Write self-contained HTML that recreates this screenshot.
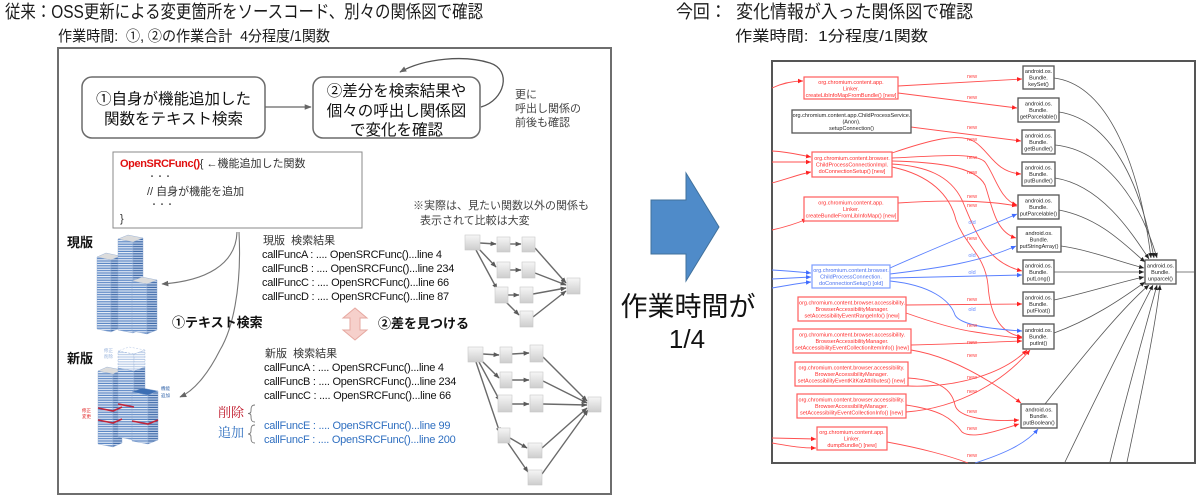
<!DOCTYPE html>
<html><head><meta charset="utf-8">
<style>
html,body{margin:0;padding:0;background:#fff;}
svg{display:block;font-family:"Liberation Sans","Noto Sans CJK JP",sans-serif;}
.pre{white-space:pre;}
.n{font-size:5.5px;text-anchor:middle;}
.nr{fill:#ff2a2a;}
.nb{fill:#4a72f0;}
.nk{fill:#222;}
.rr{fill:#fff;stroke:#ff5c5c;stroke-width:1.2;}
.rb{fill:#fff;stroke:#7c9cff;stroke-width:1.2;}
.rk{fill:#fff;stroke:#555;stroke-width:1.3;}
.er{fill:none;stroke:#ff5050;stroke-width:0.9;marker-end:url(#mr);}
.eb{fill:none;stroke:#5a80ff;stroke-width:0.9;marker-end:url(#mb);}
.ek{fill:none;stroke:#555;stroke-width:0.8;marker-end:url(#mk);}
.ln{font-size:5.5px;text-anchor:middle;fill:#ff4040;}
.lo{font-size:5.5px;text-anchor:middle;fill:#6a8cff;}
.ge{fill:none;stroke:#6a6a6a;stroke-width:1.4;marker-end:url(#mg2);}
.gn{fill:url(#gnd);stroke:#c8c8c8;stroke-width:0.6;}
.cf{font-size:11px;letter-spacing:-0.25px;fill:#111;}
.cfb{font-size:11px;letter-spacing:-0.25px;fill:#2f6fc0;}
</style></head><body>
<svg width="1200" height="498" viewBox="0 0 1200 498">
<defs>
<marker id="mr" viewBox="0 0 10 10" refX="10" refY="5" markerWidth="5" markerHeight="5" orient="auto" markerUnits="userSpaceOnUse"><path d="M0,0.5L10,5L0,9.5z" fill="#f22"/></marker>
<marker id="mb" viewBox="0 0 10 10" refX="10" refY="5" markerWidth="5" markerHeight="5" orient="auto" markerUnits="userSpaceOnUse"><path d="M0,0.5L10,5L0,9.5z" fill="#3f6bff"/></marker>
<marker id="mk" viewBox="0 0 10 10" refX="10" refY="5" markerWidth="5" markerHeight="5" orient="auto" markerUnits="userSpaceOnUse"><path d="M0,0.5L10,5L0,9.5z" fill="#222"/></marker>
<marker id="mg" viewBox="0 0 10 10" refX="9" refY="5" markerWidth="7" markerHeight="7" orient="auto" markerUnits="userSpaceOnUse"><path d="M0,1L10,5L0,9z" fill="#666"/></marker>
<marker id="mg2" viewBox="0 0 10 10" refX="9" refY="5" markerWidth="6" markerHeight="6" orient="auto" markerUnits="userSpaceOnUse"><path d="M0,1L10,5L0,9z" fill="#5a5a5a"/></marker>
<linearGradient id="gnd" x1="0" y1="0" x2="0" y2="1"><stop offset="0" stop-color="#f6f6f6"/><stop offset="1" stop-color="#cdcdcd"/></linearGradient>
<pattern id="s1" width="6" height="2.4" patternUnits="userSpaceOnUse"><rect width="6" height="2.4" fill="#e6edf7"/><rect y="1.2" width="6" height="1.2" fill="#5a86c4"/></pattern>
<pattern id="s2" width="6" height="2.4" patternUnits="userSpaceOnUse"><rect width="6" height="2.4" fill="#c4d4ec"/><rect y="1.2" width="6" height="1.2" fill="#3c68a8"/></pattern>
<pattern id="s3" width="6" height="2.4" patternUnits="userSpaceOnUse"><rect width="6" height="2.4" fill="#fff"/><rect y="1.2" width="6" height="1.2" fill="#b9cce8"/></pattern>
</defs>

<!-- Headers -->
<text x="5" y="18" font-size="18" fill="#1a1a1a" textLength="478" lengthAdjust="spacingAndGlyphs">従来：OSS更新による変更箇所をソースコード、別々の関係図で確認</text>
<text x="58" y="41" font-size="15" fill="#1a1a1a" class="pre" textLength="272" lengthAdjust="spacingAndGlyphs">作業時間:  ①, ②の作業合計  4分程度/1関数</text>
<text x="676" y="18" font-size="18" fill="#1a1a1a" class="pre" textLength="297" lengthAdjust="spacingAndGlyphs">今回：  変化情報が入った関係図で確認</text>
<text x="735" y="41" font-size="15" fill="#1a1a1a" class="pre" textLength="193" lengthAdjust="spacingAndGlyphs">作業時間:  1分程度/1関数</text>

<!-- Left panel -->
<rect x="58" y="48" width="553" height="446" fill="#fff" stroke="#6e6e6e" stroke-width="2"/>

<rect x="82" y="77" width="183" height="61" rx="10" fill="#fff" stroke="#6b6b6b" stroke-width="1.5"/>
<text x="173.5" y="104" font-size="15.5" text-anchor="middle" fill="#111">①自身が機能追加した</text>
<text x="173.5" y="124" font-size="15.5" text-anchor="middle" fill="#111">関数をテキスト検索</text>
<rect x="313" y="77" width="167" height="61" rx="10" fill="#fff" stroke="#6b6b6b" stroke-width="1.5"/>
<text x="396.5" y="96" font-size="15.5" text-anchor="middle" fill="#111">②差分を検索結果や</text>
<text x="396.5" y="116" font-size="15.5" text-anchor="middle" fill="#111">個々の呼出し関係図</text>
<text x="396.5" y="135" font-size="15.5" text-anchor="middle" fill="#111">で変化を確認</text>
<path d="M265,107 L311,107" fill="none" stroke="#666" stroke-width="1.3" marker-end="url(#mg)"/>
<path d="M481,107 C505,100 512,70 490,63 C465,55 425,58 400,72" fill="none" stroke="#555" stroke-width="1.3" marker-end="url(#mg)"/>
<text x="515" y="98" font-size="11" fill="#444">更に</text>
<text x="515" y="112" font-size="11" fill="#444">呼出し関係の</text>
<text x="515" y="126" font-size="11" fill="#444">前後も確認</text>

<rect x="113" y="152" width="249" height="76" fill="#fff" stroke="#8a8a8a" stroke-width="1"/>
<text x="120" y="167" font-size="11" fill="#333"><tspan fill="#e01010" font-weight="bold" letter-spacing="-0.4">OpenSRCFunc()</tspan>{ ←機能追加した関数</text>
<text x="148" y="179" font-size="8" fill="#333">・・・</text>
<text x="147" y="195" font-size="11" fill="#333">// 自身が機能を追加</text>
<text x="150" y="207" font-size="8" fill="#333">・・・</text>
<text x="120" y="222" font-size="11" fill="#333">}</text>

<text x="413" y="209" font-size="11" fill="#444">※実際は、見たい関数以外の関係も</text>
<text x="420" y="224" font-size="11" fill="#444">表示されて比較は大変</text>

<text x="67" y="247" font-size="13" font-weight="bold" fill="#111">現版</text>
<text x="67" y="363" font-size="13" font-weight="bold" fill="#111">新版</text>

<!-- current buildings -->
<g stroke="#8aa6cf" stroke-width="0.4">
<polygon points="97,257 111,260 111,332 97,329" fill="url(#s1)"/>
<polygon points="111,260 120,256 120,328 111,332" fill="url(#s2)"/>
<polygon points="97,257 111,260 120,256 106,253" fill="#dcdcdc"/>
<polygon points="118,239 133,242 133,333 118,330" fill="url(#s1)"/>
<polygon points="133,242 143,238 143,329 133,333" fill="url(#s2)"/>
<polygon points="118,239 133,242 143,238 128,235" fill="#dcdcdc"/>
<polygon points="132,281 147,284 147,334 132,331" fill="url(#s1)"/>
<polygon points="147,284 157,280 157,330 147,334" fill="url(#s2)"/>
<polygon points="132,281 147,284 157,280 142,277" fill="#dcdcdc"/>
</g>
<!-- new buildings -->
<g stroke="#8aa6cf" stroke-width="0.4">
<polygon points="98,371 113,374 113,447 98,444" fill="url(#s1)"/>
<polygon points="113,374 122,370 122,443 113,447" fill="url(#s2)"/>
<polygon points="98,371 113,374 122,370 107,367" fill="#dcdcdc"/>
<polygon points="118,351 134,354 134,371 118,368" fill="url(#s3)" stroke-dasharray="2,1.5"/>
<polygon points="134,354 145,350 145,367 134,371" fill="url(#s3)" stroke-dasharray="2,1.5"/>
<polygon points="118,351 134,354 145,350 129,347" fill="none" stroke="#9ab4dc" stroke-dasharray="2,1.5"/>
<polygon points="118,368 134,371 134,440 118,437" fill="url(#s1)"/>
<polygon points="134,371 145,367 145,436 134,440" fill="url(#s2)"/>
<polygon points="132,392 148,395 148,444 132,441" fill="url(#s1)"/>
<polygon points="148,395 158,391 158,440 148,444" fill="url(#s2)"/>
<polygon points="132,392 148,395 158,391 142,388" fill="#3d6fb4"/>
</g>
<g stroke="#c0243a" stroke-width="1.6" fill="none">
<polyline points="98,408 113,411 122,407"/>
<polyline points="98,420 113,423 122,419"/>
<polyline points="118,404 134,407"/>
<polyline points="132,421 148,424 158,420"/>
</g>
<text x="104" y="352" font-size="4.5" fill="#9ab4dc">修正</text>
<text x="104" y="358" font-size="4.5" fill="#9ab4dc">削除</text>
<text x="82" y="412" font-size="4.5" fill="#e02020">修正</text>
<text x="82" y="418" font-size="4.5" fill="#e02020">変更</text>
<text x="161" y="390" font-size="4.5" fill="#2f62a8">機能</text>
<text x="161" y="397" font-size="4.5" fill="#2f62a8">追加</text>

<!-- curves from code box -->
<path d="M237,232 C236,265 205,281 162,284" fill="none" stroke="#777" stroke-width="1.1" marker-end="url(#mg)"/>
<path d="M239,232 C242,290 232,330 220,350 C210,370 196,390 180,397" fill="none" stroke="#777" stroke-width="1.1" marker-end="url(#mg)"/>

<text x="172" y="327" font-size="13" font-weight="bold" fill="#111">①テキスト検索</text>
<polygon points="355,308 367,318 360,318 360,330 367,330 355,340 343,330 350,330 350,318 343,318" fill="#f6d0cb" stroke="#e6a8a0" stroke-width="1"/>
<text x="378" y="328" font-size="13" font-weight="bold" fill="#111">②差を見つける</text>

<!-- search results -->
<text x="263" y="244" font-size="11" fill="#333" class="pre">現版  検索結果</text>
<text x="262" y="258" class="cf">callFuncA : .... OpenSRCFunc()...line 4</text>
<text x="262" y="272" class="cf">callFuncB : .... OpenSRCFunc()...line 234</text>
<text x="262" y="286" class="cf">callFuncC : .... OpenSRCFunc()...line 66</text>
<text x="262" y="300" class="cf">callFuncD : .... OpenSRCFunc()...line 87</text>

<text x="265" y="357" font-size="11" fill="#333" class="pre">新版  検索結果</text>
<text x="264" y="371" class="cf">callFuncA : .... OpenSRCFunc()...line 4</text>
<text x="264" y="385" class="cf">callFuncB : .... OpenSRCFunc()...line 234</text>
<text x="264" y="399" class="cf">callFuncC : .... OpenSRCFunc()...line 66</text>
<text x="218" y="417" font-size="13" fill="#c0182a" font-family="'Liberation Serif','Noto Serif CJK SC',serif">削除</text>
<path d="M255,405 C251,405 251,408 251,411 C251,413 250,413.5 248,413.5 C250,413.5 251,414 251,416 C251,419 251,422 255,422" fill="none" stroke="#777" stroke-width="0.9"/>
<text x="218" y="437" font-size="13" fill="#2f6fc0" font-family="'Liberation Serif','Noto Serif CJK SC',serif">追加</text>
<path d="M255,425 C251,425 251,428 251,431 C251,433 250,434 248,434 C250,434 251,435 251,437 C251,440 251,443 255,443" fill="none" stroke="#777" stroke-width="0.9"/>
<text x="264" y="429" class="cfb">callFuncE : .... OpenSRCFunc()...line 99</text>
<text x="264" y="443" class="cfb">callFuncF : .... OpenSRCFunc()...line 200</text>

<!-- top graph -->
<g>
<path class="ge" d="M480,243 L496,244"/>
<path class="ge" d="M510,244 L521,244"/>
<path class="ge" d="M478,248 L496,267"/>
<path class="ge" d="M510,270 L521,270"/>
<path class="ge" d="M476,250 L497,289"/>
<path class="ge" d="M508,295 L519,295"/>
<path class="ge" d="M506,302 L519,315"/>
<path class="ge" d="M535,248 L566,283"/>
<path class="ge" d="M535,273 L566,285"/>
<path class="ge" d="M533,294 L566,288"/>
<path class="ge" d="M533,317 L566,291"/>
<rect class="gn" x="465" y="235" width="15" height="15"/>
<rect class="gn" x="497" y="237" width="13" height="15"/>
<rect class="gn" x="522" y="237" width="13" height="15"/>
<rect class="gn" x="497" y="262" width="13" height="16"/>
<rect class="gn" x="522" y="262" width="13" height="16"/>
<rect class="gn" x="495" y="287" width="13" height="16"/>
<rect class="gn" x="520" y="287" width="13" height="16"/>
<rect class="gn" x="520" y="311" width="13" height="16"/>
<rect class="gn" x="567" y="278" width="13" height="16"/>
</g>
<!-- bottom graph -->
<g>
<path class="ge" d="M483,354 L499,355"/>
<path class="ge" d="M512,354 L529,353"/>
<path class="ge" d="M481,360 L499,378"/>
<path class="ge" d="M512,380 L529,380"/>
<path class="ge" d="M479,362 L500,401"/>
<path class="ge" d="M512,404 L529,404"/>
<path class="ge" d="M476,362 L500,433"/>
<path class="ge" d="M510,438 L527,448"/>
<path class="ge" d="M508,443 L528,472"/>
<path class="ge" d="M543,357 L587,401"/>
<path class="ge" d="M543,381 L587,403"/>
<path class="ge" d="M543,404 L587,405"/>
<path class="ge" d="M542,448 L587,408"/>
<path class="ge" d="M542,474 L588,410"/>
<rect class="gn" x="468" y="347" width="15" height="15"/>
<rect class="gn" x="500" y="347" width="12" height="16"/>
<rect class="gn" x="530" y="345" width="13" height="17"/>
<rect class="gn" x="500" y="372" width="12" height="16"/>
<rect class="gn" x="530" y="372" width="13" height="16"/>
<rect class="gn" x="498" y="395" width="14" height="17"/>
<rect class="gn" x="530" y="395" width="13" height="17"/>
<rect class="gn" x="498" y="428" width="12" height="15"/>
<rect class="gn" x="528" y="443" width="14" height="15"/>
<rect class="gn" x="528" y="470" width="14" height="15"/>
<rect class="gn" x="588" y="397" width="13" height="15"/>
</g>

<!-- middle arrow -->
<polygon points="651,200 686,200 686,173 719,227 686,281 686,254 651,254" fill="#4f8bc9" stroke="#41719c" stroke-width="1"/>
<text x="688" y="316" font-size="27" text-anchor="middle" fill="#111">作業時間が</text>
<text x="687" y="348" font-size="26" text-anchor="middle" fill="#111">1/4</text>

<!-- Right diagram -->
<rect x="772" y="61" width="423" height="402" fill="#fff" stroke="#555" stroke-width="2"/>

<!-- black edges to unparcel -->
<path class="ek" d="M1054,78 C1110,85 1140,170 1151,258"/>
<path class="ek" d="M1059,112 C1110,120 1140,180 1154,258"/>
<path class="ek" d="M1055,145 C1105,150 1140,200 1157,258"/>
<path class="ek" d="M1055,178 C1100,185 1130,230 1149,259"/>
<path class="ek" d="M1059,210 C1100,218 1125,245 1145,262"/>
<path class="ek" d="M1061,246 C1090,250 1120,262 1144,268"/>
<path class="ek" d="M1054,272 L1144,272"/>
<path class="ek" d="M1054,300 C1090,292 1120,282 1144,277"/>
<path class="ek" d="M1054,333 C1090,320 1120,300 1145,282"/>
<path class="ek" d="M1045,404 C1080,360 1120,310 1149,285"/>
<path class="ek" d="M1065,462 C1090,410 1130,330 1153,285"/>
<path class="ek" d="M1110,462 C1125,400 1145,330 1157,285"/>
<path class="ek" d="M1127,462 C1140,400 1155,330 1160,285"/>
<path d="M1176,272 L1194,272" stroke="#555" stroke-width="0.8"/>

<!-- incoming left edges -->
<path class="er" d="M772,88 C785,82 795,81 803,81"/>
<path class="er" d="M772,151 C790,152 800,155 811,157"/>
<path class="er" d="M772,162 L811,162"/>
<path class="er" d="M772,183 C790,178 800,174 811,172"/>
<path class="er" d="M772,230 C790,226 800,222 807,219"/>
<path class="eb" d="M772,270 C790,271 800,272 811,273"/>
<path class="eb" d="M772,279 L811,277"/>
<path class="eb" d="M772,288 C790,285 800,283 811,282"/>
<path class="er" d="M772,438 L816,439"/>
<path class="er" d="M772,443 C790,446 800,448 816,448"/>

<!-- red edges -->
<path class="er" d="M898,86 L1022,79"/>
<path class="er" d="M898,93 L1017,108"/>
<path class="er" d="M911,127 L1021,141"/>
<path class="er" d="M892,153 C930,140 960,132 975,142 C990,152 995,172 1021,174"/>
<path class="er" d="M892,158 C935,156 975,152 985,162 C995,175 1000,200 1017,205"/>
<path class="er" d="M892,161 C930,162 975,165 985,185 C992,205 995,232 1016,238"/>
<path class="er" d="M892,164 C925,166 950,175 962,200 C975,230 985,262 1022,271"/>
<path class="er" d="M892,167 C930,175 950,195 956,220 C965,245 985,255 988,285 C990,315 1000,333 1022,337"/>
<path class="er" d="M898,203 C940,200 985,200 1017,206"/>
<path class="er" d="M906,305 L1022,304"/>
<path class="er" d="M906,313 C940,325 960,330 975,332 C995,335 1005,337 1022,338"/>
<path class="er" d="M911,345 C960,344 990,342 1022,341"/>
<path class="er" d="M911,350 C950,356 990,380 1021,403"/>
<path class="er" d="M908,378 C940,380 952,390 955,405 C958,418 990,422 1019,420"/>
<path class="er" d="M908,386 C960,388 1005,372 1027,350"/>
<path class="er" d="M906,412 C960,408 1005,380 1030,350"/>
<path class="er" d="M906,405 C940,410 952,418 962,432 C972,440 1000,430 1019,424"/>
<path d="M887,442 C920,448 950,456 968,463" fill="none" stroke="#ff5050" stroke-width="0.9"/>

<!-- blue edges -->
<path class="eb" d="M890,268 C930,250 980,230 1017,214"/>
<path class="eb" d="M890,274 C940,268 980,262 1016,246"/>
<path class="eb" d="M890,278 L1022,275"/>
<path class="eb" d="M890,281 C930,285 950,300 955,315 C960,325 990,329 1022,331"/>
<path class="eb" d="M975,463 C1000,455 1025,445 1038,429"/>

<!-- edge labels -->
<text class="ln" x="972" y="78">new</text>
<text class="ln" x="972" y="99">new</text>
<text class="ln" x="972" y="129">new</text>
<text class="ln" x="972" y="141">new</text>
<text class="ln" x="972" y="159">new</text>
<text class="ln" x="972" y="174">new</text>
<text class="ln" x="972" y="198">new</text>
<text class="ln" x="972" y="207">new</text>
<text class="lo" x="972" y="224">old</text>
<text class="ln" x="972" y="240">new</text>
<text class="lo" x="972" y="257">old</text>
<text class="lo" x="972" y="274">old</text>
<text class="ln" x="972" y="301">new</text>
<text class="lo" x="972" y="311">old</text>
<text class="ln" x="972" y="327">new</text>
<text class="ln" x="972" y="344">new</text>
<text class="ln" x="972" y="357">new</text>
<text class="ln" x="972" y="379">new</text>
<text class="ln" x="972" y="393">new</text>
<text class="ln" x="972" y="413">new</text>
<text class="ln" x="972" y="430">new</text>
<text class="ln" x="972" y="457">new</text>

<!-- left nodes -->
<rect class="rr" x="804" y="77" width="94" height="22"/>
<text class="n nr" x="851" y="84">org.chromium.content.app.</text>
<text class="n nr" x="851" y="90.5">Linker.</text>
<text class="n nr" x="851" y="97">createLibInfoMapFromBundle() [new]</text>

<rect class="rk" x="792" y="110" width="119" height="23"/>
<text class="n nk" x="851.5" y="117">org.chromium.content.app.ChildProcessService.</text>
<text class="n nk" x="851.5" y="123.5">(Anon).</text>
<text class="n nk" x="851.5" y="130">setupConnection()</text>

<rect class="rr" x="812" y="152" width="80" height="25"/>
<text class="n nr" x="852" y="160">org.chromium.content.browser.</text>
<text class="n nr" x="852" y="166.5">ChildProcessConnectionImpl.</text>
<text class="n nr" x="852" y="173">doConnectionSetup() [new]</text>

<rect class="rr" x="804" y="197" width="94" height="24"/>
<text class="n nr" x="851" y="204.5">org.chromium.content.app.</text>
<text class="n nr" x="851" y="211">Linker.</text>
<text class="n nr" x="851" y="217.5">createBundleFromLibInfoMap() [new]</text>

<rect class="rb" x="812" y="265" width="78" height="23"/>
<text class="n nb" x="851" y="272">org.chromium.content.browser.</text>
<text class="n nb" x="851" y="278.5">ChildProcessConnection.</text>
<text class="n nb" x="851" y="285">doConnectionSetup() [old]</text>

<rect class="rr" x="798" y="297" width="108" height="24"/>
<text class="n nr" x="852" y="304.5">org.chromium.content.browser.accessibility.</text>
<text class="n nr" x="852" y="311">BrowserAccessibilityManager.</text>
<text class="n nr" x="852" y="317.5">setAccessibilityEventRangeInfo() [new]</text>

<rect class="rr" x="793" y="329" width="118" height="24"/>
<text class="n nr" x="852" y="336.5">org.chromium.content.browser.accessibility.</text>
<text class="n nr" x="852" y="343">BrowserAccessibilityManager.</text>
<text class="n nr" x="852" y="349.5" font-size="5.3">setAccessibilityEventCollectionItemInfo() [new]</text>

<rect class="rr" x="795" y="362" width="113" height="24"/>
<text class="n nr" x="851.5" y="369.5">org.chromium.content.browser.accessibility.</text>
<text class="n nr" x="851.5" y="376">BrowserAccessibilityManager.</text>
<text class="n nr" x="851.5" y="382.5" font-size="5.3">setAccessibilityEventKitKatAttributes() [new]</text>

<rect class="rr" x="797" y="394" width="109" height="24"/>
<text class="n nr" x="851.5" y="401.5">org.chromium.content.browser.accessibility.</text>
<text class="n nr" x="851.5" y="408">BrowserAccessibilityManager.</text>
<text class="n nr" x="851.5" y="414.5" font-size="5.3">setAccessibilityEventCollectionInfo() [new]</text>

<rect class="rr" x="817" y="427" width="70" height="23"/>
<text class="n nr" x="852" y="434">org.chromium.content.app.</text>
<text class="n nr" x="852" y="440.5">Linker.</text>
<text class="n nr" x="852" y="447">dumpBundle() [new]</text>

<!-- right nodes -->
<rect class="rk" x="1023" y="66" width="31" height="23"/>
<text class="n nk" x="1038.5" y="73">android.os.</text><text class="n nk" x="1038.5" y="79.5">Bundle.</text><text class="n nk" x="1038.5" y="86">keySet()</text>

<rect class="rk" x="1018" y="98" width="41" height="24"/>
<text class="n nk" x="1038.5" y="105.5">android.os.</text><text class="n nk" x="1038.5" y="112">Bundle.</text><text class="n nk" x="1038.5" y="118.5">getParcelable()</text>

<rect class="rk" x="1022" y="130" width="33" height="24"/>
<text class="n nk" x="1038.5" y="137.5">android.os.</text><text class="n nk" x="1038.5" y="144">Bundle.</text><text class="n nk" x="1038.5" y="150.5">getBundle()</text>

<rect class="rk" x="1022" y="162" width="33" height="24"/>
<text class="n nk" x="1038.5" y="169.5">android.os.</text><text class="n nk" x="1038.5" y="176">Bundle.</text><text class="n nk" x="1038.5" y="182.5">putBundle()</text>

<rect class="rk" x="1018" y="195" width="41" height="24"/>
<text class="n nk" x="1038.5" y="202.5">android.os.</text><text class="n nk" x="1038.5" y="209">Bundle.</text><text class="n nk" x="1038.5" y="215.5">putParcelable()</text>

<rect class="rk" x="1017" y="227" width="44" height="25"/>
<text class="n nk" x="1039" y="235">android.os.</text><text class="n nk" x="1039" y="241.5">Bundle.</text><text class="n nk" x="1039" y="248">putStringArray()</text>

<rect class="rk" x="1023" y="260" width="31" height="24"/>
<text class="n nk" x="1038.5" y="267.5">android.os.</text><text class="n nk" x="1038.5" y="274">Bundle.</text><text class="n nk" x="1038.5" y="280.5">putLong()</text>

<rect class="rk" x="1023" y="292" width="31" height="24"/>
<text class="n nk" x="1038.5" y="299.5">android.os.</text><text class="n nk" x="1038.5" y="306">Bundle.</text><text class="n nk" x="1038.5" y="312.5">putFloat()</text>

<rect class="rk" x="1023" y="324" width="31" height="25"/>
<text class="n nk" x="1038.5" y="332">android.os.</text><text class="n nk" x="1038.5" y="338.5">Bundle.</text><text class="n nk" x="1038.5" y="345">putInt()</text>

<rect class="rk" x="1021" y="404" width="36" height="24"/>
<text class="n nk" x="1039" y="411.5">android.os.</text><text class="n nk" x="1039" y="418">Bundle.</text><text class="n nk" x="1039" y="424.5">putBoolean()</text>

<rect class="rk" x="1145" y="260" width="31" height="24"/>
<text class="n nk" x="1160.5" y="267.5">android.os.</text><text class="n nk" x="1160.5" y="274">Bundle.</text><text class="n nk" x="1160.5" y="280.5">unparcel()</text>
</svg>
</body></html>
